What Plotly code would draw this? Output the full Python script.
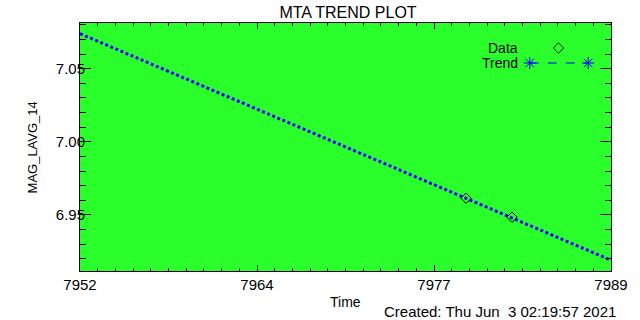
import plotly.graph_objects as go

# Data
x_range = [7952, 7989]
y_range = [6.9116, 7.0813]
x_tick_labels = ["7952", "7964", "7977", "7989"]
y_tick_vals = [6.95, 7.00, 7.05]
y_tick_labels = ["6.95", "7.00", "7.05"]

data_time = [7978.9, 7982.1]
data_val = [6.9614, 6.9484]

trend_time = [7952, 7989]
trend_val = [7.074, 6.919]

GREEN = "#2bff2b"
BLUE = "#0000ff"
FONT = "Liberation Sans"

W, H = 640, 320
PL, PR, PT, PB = 80, 616, 23, 271  # plot-area edges in pixels


def px(xp):
    return (xp - PL) / (PR - PL)


def py(yp):
    return (PB - yp) / (PB - PT)


n_major = len(x_tick_labels) - 1
x_tick_vals = [x_range[0] + i * (x_range[1] - x_range[0]) / n_major for i in range(n_major + 1)]

fig = go.Figure()

# Trend line (dotted blue)
fig.add_trace(go.Scatter(
    x=trend_time, y=trend_val, mode="lines",
    line=dict(color=BLUE, width=3, dash="3px,2.5px"),
    showlegend=False, hoverinfo="skip"))

# Data points
fig.add_trace(go.Scatter(
    x=data_time, y=data_val, mode="markers",
    marker=dict(symbol="diamond-open", size=8, color="black", line=dict(width=1, color="black")),
    showlegend=False))

# Custom legend on overlay axes (0..1)
fig.add_trace(go.Scatter(
    x=[px(563)], y=[py(48)], xaxis="x2", yaxis="y2", mode="markers",
    marker=dict(symbol="diamond-open", size=8, color="black", line=dict(width=1, color="black")),
    showlegend=False, hoverinfo="skip"))
fig.add_trace(go.Scatter(
    x=[px(534), px(593)], y=[py(63), py(63)], xaxis="x2", yaxis="y2", mode="markers",
    marker=dict(symbol="asterisk-open", size=10, color=BLUE, line=dict(width=1, color=BLUE)),
    showlegend=False, hoverinfo="skip"))

fig.add_shape(type="line", xref="paper", yref="paper", x0=px(534), x1=px(593), y0=py(63), y1=py(63),
              line=dict(color=BLUE, width=1, dash="dash"))

axis_common = dict(showgrid=False, zeroline=False, showline=True, linecolor="black",
                   linewidth=1, mirror="ticks", ticks="inside", tickcolor="black",
                   tickfont=dict(family=FONT, size=15, color="black"))

fig.update_layout(
    width=W, height=H,
    margin=dict(l=PL, r=W - PR, t=PT, b=H - PB),
    paper_bgcolor="white", plot_bgcolor=GREEN,
    title=dict(text="MTA TREND PLOT", x=(PL + PR) / 2 / W, xanchor="center",
               y=1 - 12 / H, yanchor="middle",
               font=dict(family=FONT, size=16, color="black")),
    xaxis=dict(range=x_range, tickmode="array", tickvals=x_tick_vals, ticktext=x_tick_labels,
               ticklen=6, tickwidth=1,
               minor=dict(ticks="inside", ticklen=3, tickcolor="black", tick0=x_range[0],
                          dtick=(x_range[1] - x_range[0]) / 30, showgrid=False),
               **axis_common),
    yaxis=dict(range=y_range, tickmode="array", tickvals=y_tick_vals, ticktext=y_tick_labels,
               ticklen=11, tickwidth=1, ticklabelstandoff=-9,
               minor=dict(ticks="inside", ticklen=6, tickcolor="black", tick0=6.9, dtick=0.01,
                          showgrid=False),
               **axis_common),
    xaxis2=dict(overlaying="x", range=[0, 1], visible=False),
    yaxis2=dict(overlaying="y", range=[0, 1], visible=False),
    showlegend=False,
)

ann_font = dict(family=FONT, size=14, color="black")
fig.add_annotation(text="Data", xref="paper", yref="paper", x=px(524), y=py(48),
                   xanchor="right", yanchor="middle", showarrow=False, font=ann_font)
fig.add_annotation(text="Trend", xref="paper", yref="paper", x=px(524), y=py(63),
                   xanchor="right", yanchor="middle", showarrow=False, font=ann_font)
fig.add_annotation(text="Time", xref="paper", yref="paper", x=px(348), y=py(302),
                   xanchor="center", yanchor="middle", showarrow=False, font=ann_font)
fig.add_annotation(text="Created: Thu Jun\u00a0 3 02:19:57 2021", xref="paper", yref="paper",
                   x=px(623), y=py(311), xanchor="right", yanchor="middle", showarrow=False,
                   font=dict(family=FONT, size=15, color="black"))
fig.add_annotation(text="MAG_LAVG_14", xref="paper", yref="paper", x=px(32), y=0.5,
                   xanchor="center", yanchor="middle", textangle=-90, showarrow=False,
                   font=dict(family=FONT, size=13, color="black"))

# Remove the default 8px page margin so the 640x320 figure fills the window exactly,
# and hide the mode bar so it does not cover the title.
fig.write_html("out.html", config={"displayModeBar": False},
               post_script="document.body.style.margin='0px';")
